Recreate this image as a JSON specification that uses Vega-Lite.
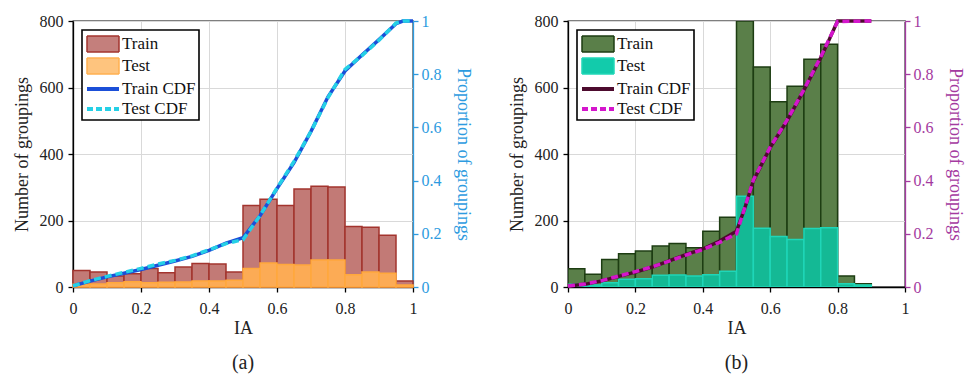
{
  "$schema": "https://vega.github.io/schema/vega-lite/v6.json",
  "background": "white",
  "padding": {"left": 12, "top": 12, "right": 3, "bottom": 2},
  "config": {
    "font": "Liberation Serif",
    "view": {"stroke": "black", "strokeWidth": 1.3},
    "style": {"guide-label": {"font": "Liberation Serif"}, "guide-title": {"font": "Liberation Serif"}},
    "axis": {
      "labelFont": "Liberation Serif", "titleFont": "Liberation Serif",
      "labelFontSize": 16, "titleFontSize": 18, "titleFontWeight": "normal",
      "labelColor": "#222222", "titleColor": "#222222", "labelFlush": false,
      "domainColor": "black", "tickColor": "black", "domainWidth": 1.3, "tickWidth": 1.3, "tickSize": 5,
      "gridColor": "#d9d9d9", "gridWidth": 1
    },
    "axisX": {"labelFont": "Liberation Serif", "titleFont": "Liberation Serif", "labelPadding": 8, "titlePadding": 3, "labelFlush": false},
    "axisY": {"labelFont": "Liberation Serif", "titleFont": "Liberation Serif", "labelPadding": 5, "labelFlush": false},
    "axisQuantitative": {"labelFont": "Liberation Serif", "titleFont": "Liberation Serif"},
    "title": {"font": "Liberation Serif", "fontSize": 20, "fontWeight": "normal", "color": "#222222"},
    "legend": {"labelFont": "Liberation Serif", "labelFontSize": 17, "labelColor": "#111111", "title": null,
               "orient": "top-left", "offset": 9, "padding": 3, "fillColor": "white", "strokeColor": "black", "strokeWidth": 1.6,
               "symbolSize": 400, "symbolOffset": 6, "labelOffset": 7, "rowPadding": -1,
               "symbolOpacity": 1}
  },
  "datasets": {
    "bars_a": [
      {"x0": 0.00, "x1": 0.05, "n": 50, "series": "Train"},
      {"x0": 0.05, "x1": 0.10, "n": 45, "series": "Train"},
      {"x0": 0.10, "x1": 0.15, "n": 33, "series": "Train"},
      {"x0": 0.15, "x1": 0.20, "n": 40, "series": "Train"},
      {"x0": 0.20, "x1": 0.25, "n": 56, "series": "Train"},
      {"x0": 0.25, "x1": 0.30, "n": 43, "series": "Train"},
      {"x0": 0.30, "x1": 0.35, "n": 60, "series": "Train"},
      {"x0": 0.35, "x1": 0.40, "n": 71, "series": "Train"},
      {"x0": 0.40, "x1": 0.45, "n": 69, "series": "Train"},
      {"x0": 0.45, "x1": 0.50, "n": 45, "series": "Train"},
      {"x0": 0.50, "x1": 0.55, "n": 245, "series": "Train"},
      {"x0": 0.55, "x1": 0.60, "n": 264, "series": "Train"},
      {"x0": 0.60, "x1": 0.65, "n": 245, "series": "Train"},
      {"x0": 0.65, "x1": 0.70, "n": 295, "series": "Train"},
      {"x0": 0.70, "x1": 0.75, "n": 303, "series": "Train"},
      {"x0": 0.75, "x1": 0.80, "n": 301, "series": "Train"},
      {"x0": 0.80, "x1": 0.85, "n": 182, "series": "Train"},
      {"x0": 0.85, "x1": 0.90, "n": 180, "series": "Train"},
      {"x0": 0.90, "x1": 0.95, "n": 156, "series": "Train"},
      {"x0": 0.95, "x1": 1.00, "n": 18, "series": "Train"},
      {"x0": 0.00, "x1": 0.05, "n": 8, "series": "Test"},
      {"x0": 0.05, "x1": 0.10, "n": 9, "series": "Test"},
      {"x0": 0.10, "x1": 0.15, "n": 13, "series": "Test"},
      {"x0": 0.15, "x1": 0.20, "n": 16, "series": "Test"},
      {"x0": 0.20, "x1": 0.25, "n": 13, "series": "Test"},
      {"x0": 0.25, "x1": 0.30, "n": 14, "series": "Test"},
      {"x0": 0.30, "x1": 0.35, "n": 15, "series": "Test"},
      {"x0": 0.35, "x1": 0.40, "n": 18, "series": "Test"},
      {"x0": 0.40, "x1": 0.45, "n": 18, "series": "Test"},
      {"x0": 0.45, "x1": 0.50, "n": 20, "series": "Test"},
      {"x0": 0.50, "x1": 0.55, "n": 56, "series": "Test"},
      {"x0": 0.55, "x1": 0.60, "n": 72, "series": "Test"},
      {"x0": 0.60, "x1": 0.65, "n": 68, "series": "Test"},
      {"x0": 0.65, "x1": 0.70, "n": 66, "series": "Test"},
      {"x0": 0.70, "x1": 0.75, "n": 81, "series": "Test"},
      {"x0": 0.75, "x1": 0.80, "n": 81, "series": "Test"},
      {"x0": 0.80, "x1": 0.85, "n": 37, "series": "Test"},
      {"x0": 0.85, "x1": 0.90, "n": 45, "series": "Test"},
      {"x0": 0.90, "x1": 0.95, "n": 41, "series": "Test"},
      {"x0": 0.95, "x1": 1.00, "n": 6, "series": "Test"}
    ],
    "cdf_a": [
      {"x": 0.00, "p": 0.004, "series": "Train CDF"},
      {"x": 0.05, "p": 0.022, "series": "Train CDF"},
      {"x": 0.10, "p": 0.038, "series": "Train CDF"},
      {"x": 0.15, "p": 0.052, "series": "Train CDF"},
      {"x": 0.20, "p": 0.066, "series": "Train CDF"},
      {"x": 0.25, "p": 0.082, "series": "Train CDF"},
      {"x": 0.30, "p": 0.098, "series": "Train CDF"},
      {"x": 0.35, "p": 0.115, "series": "Train CDF"},
      {"x": 0.40, "p": 0.138, "series": "Train CDF"},
      {"x": 0.45, "p": 0.165, "series": "Train CDF"},
      {"x": 0.50, "p": 0.185, "series": "Train CDF"},
      {"x": 0.55, "p": 0.268, "series": "Train CDF"},
      {"x": 0.60, "p": 0.370, "series": "Train CDF"},
      {"x": 0.65, "p": 0.468, "series": "Train CDF"},
      {"x": 0.70, "p": 0.585, "series": "Train CDF"},
      {"x": 0.75, "p": 0.715, "series": "Train CDF"},
      {"x": 0.80, "p": 0.812, "series": "Train CDF"},
      {"x": 0.85, "p": 0.872, "series": "Train CDF"},
      {"x": 0.90, "p": 0.930, "series": "Train CDF"},
      {"x": 0.95, "p": 0.990, "series": "Train CDF"},
      {"x": 0.97, "p": 1.000, "series": "Train CDF"},
      {"x": 1.00, "p": 1.000, "series": "Train CDF"},
      {"x": 0.00, "p": 0.004, "series": "Test CDF"},
      {"x": 0.05, "p": 0.024, "series": "Test CDF"},
      {"x": 0.10, "p": 0.040, "series": "Test CDF"},
      {"x": 0.15, "p": 0.055, "series": "Test CDF"},
      {"x": 0.20, "p": 0.070, "series": "Test CDF"},
      {"x": 0.25, "p": 0.086, "series": "Test CDF"},
      {"x": 0.30, "p": 0.100, "series": "Test CDF"},
      {"x": 0.35, "p": 0.117, "series": "Test CDF"},
      {"x": 0.40, "p": 0.140, "series": "Test CDF"},
      {"x": 0.45, "p": 0.163, "series": "Test CDF"},
      {"x": 0.50, "p": 0.178, "series": "Test CDF"},
      {"x": 0.55, "p": 0.268, "series": "Test CDF"},
      {"x": 0.60, "p": 0.372, "series": "Test CDF"},
      {"x": 0.65, "p": 0.472, "series": "Test CDF"},
      {"x": 0.70, "p": 0.585, "series": "Test CDF"},
      {"x": 0.75, "p": 0.712, "series": "Test CDF"},
      {"x": 0.80, "p": 0.818, "series": "Test CDF"},
      {"x": 0.85, "p": 0.870, "series": "Test CDF"},
      {"x": 0.90, "p": 0.928, "series": "Test CDF"},
      {"x": 0.95, "p": 0.992, "series": "Test CDF"},
      {"x": 0.97, "p": 1.000, "series": "Test CDF"},
      {"x": 1.00, "p": 1.000, "series": "Test CDF"}
    ],
    "bars_b": [
      {"x0": 0.00, "x1": 0.05, "n": 55, "series": "Train"},
      {"x0": 0.05, "x1": 0.10, "n": 38, "series": "Train"},
      {"x0": 0.10, "x1": 0.15, "n": 83, "series": "Train"},
      {"x0": 0.15, "x1": 0.20, "n": 100, "series": "Train"},
      {"x0": 0.20, "x1": 0.25, "n": 108, "series": "Train"},
      {"x0": 0.25, "x1": 0.30, "n": 123, "series": "Train"},
      {"x0": 0.30, "x1": 0.35, "n": 131, "series": "Train"},
      {"x0": 0.35, "x1": 0.40, "n": 118, "series": "Train"},
      {"x0": 0.40, "x1": 0.45, "n": 168, "series": "Train"},
      {"x0": 0.45, "x1": 0.50, "n": 210, "series": "Train"},
      {"x0": 0.50, "x1": 0.55, "n": 800, "series": "Train"},
      {"x0": 0.55, "x1": 0.60, "n": 662, "series": "Train"},
      {"x0": 0.60, "x1": 0.65, "n": 557, "series": "Train"},
      {"x0": 0.65, "x1": 0.70, "n": 604, "series": "Train"},
      {"x0": 0.70, "x1": 0.75, "n": 685, "series": "Train"},
      {"x0": 0.75, "x1": 0.80, "n": 730, "series": "Train"},
      {"x0": 0.80, "x1": 0.85, "n": 33, "series": "Train"},
      {"x0": 0.85, "x1": 0.90, "n": 10, "series": "Train"},
      {"x0": 0.00, "x1": 0.05, "n": 8, "series": "Test"},
      {"x0": 0.05, "x1": 0.10, "n": 6, "series": "Test"},
      {"x0": 0.10, "x1": 0.15, "n": 13, "series": "Test"},
      {"x0": 0.15, "x1": 0.20, "n": 23, "series": "Test"},
      {"x0": 0.20, "x1": 0.25, "n": 25, "series": "Test"},
      {"x0": 0.25, "x1": 0.30, "n": 35, "series": "Test"},
      {"x0": 0.30, "x1": 0.35, "n": 36, "series": "Test"},
      {"x0": 0.35, "x1": 0.40, "n": 33, "series": "Test"},
      {"x0": 0.40, "x1": 0.45, "n": 37, "series": "Test"},
      {"x0": 0.45, "x1": 0.50, "n": 47, "series": "Test"},
      {"x0": 0.50, "x1": 0.55, "n": 273, "series": "Test"},
      {"x0": 0.55, "x1": 0.60, "n": 177, "series": "Test"},
      {"x0": 0.60, "x1": 0.65, "n": 152, "series": "Test"},
      {"x0": 0.65, "x1": 0.70, "n": 143, "series": "Test"},
      {"x0": 0.70, "x1": 0.75, "n": 176, "series": "Test"},
      {"x0": 0.75, "x1": 0.80, "n": 178, "series": "Test"},
      {"x0": 0.80, "x1": 0.85, "n": 10, "series": "Test"},
      {"x0": 0.85, "x1": 0.90, "n": 6, "series": "Test"}
    ],
    "cdf_b": [
      {"x": 0.00, "p": 0.004, "series": "Train CDF"},
      {"x": 0.05, "p": 0.010, "series": "Train CDF"},
      {"x": 0.10, "p": 0.023, "series": "Train CDF"},
      {"x": 0.15, "p": 0.040, "series": "Train CDF"},
      {"x": 0.20, "p": 0.056, "series": "Train CDF"},
      {"x": 0.25, "p": 0.075, "series": "Train CDF"},
      {"x": 0.30, "p": 0.098, "series": "Train CDF"},
      {"x": 0.35, "p": 0.122, "series": "Train CDF"},
      {"x": 0.40, "p": 0.143, "series": "Train CDF"},
      {"x": 0.45, "p": 0.173, "series": "Train CDF"},
      {"x": 0.50, "p": 0.210, "series": "Train CDF"},
      {"x": 0.525, "p": 0.298, "series": "Train CDF"},
      {"x": 0.55, "p": 0.400, "series": "Train CDF"},
      {"x": 0.575, "p": 0.462, "series": "Train CDF"},
      {"x": 0.60, "p": 0.524, "series": "Train CDF"},
      {"x": 0.65, "p": 0.625, "series": "Train CDF"},
      {"x": 0.70, "p": 0.740, "series": "Train CDF"},
      {"x": 0.75, "p": 0.862, "series": "Train CDF"},
      {"x": 0.775, "p": 0.930, "series": "Train CDF"},
      {"x": 0.80, "p": 1.000, "series": "Train CDF"},
      {"x": 0.90, "p": 1.000, "series": "Train CDF"},
      {"x": 0.00, "p": 0.004, "series": "Test CDF"},
      {"x": 0.05, "p": 0.011, "series": "Test CDF"},
      {"x": 0.10, "p": 0.024, "series": "Test CDF"},
      {"x": 0.15, "p": 0.041, "series": "Test CDF"},
      {"x": 0.20, "p": 0.058, "series": "Test CDF"},
      {"x": 0.25, "p": 0.076, "series": "Test CDF"},
      {"x": 0.30, "p": 0.097, "series": "Test CDF"},
      {"x": 0.35, "p": 0.120, "series": "Test CDF"},
      {"x": 0.40, "p": 0.141, "series": "Test CDF"},
      {"x": 0.45, "p": 0.168, "series": "Test CDF"},
      {"x": 0.50, "p": 0.200, "series": "Test CDF"},
      {"x": 0.525, "p": 0.300, "series": "Test CDF"},
      {"x": 0.55, "p": 0.402, "series": "Test CDF"},
      {"x": 0.575, "p": 0.464, "series": "Test CDF"},
      {"x": 0.60, "p": 0.526, "series": "Test CDF"},
      {"x": 0.65, "p": 0.627, "series": "Test CDF"},
      {"x": 0.70, "p": 0.742, "series": "Test CDF"},
      {"x": 0.75, "p": 0.865, "series": "Test CDF"},
      {"x": 0.775, "p": 0.932, "series": "Test CDF"},
      {"x": 0.80, "p": 0.998, "series": "Test CDF"},
      {"x": 0.90, "p": 1.000, "series": "Test CDF"}
    ]
  },
  "spacing": 35,
  "hconcat": [
    {
      "width": 340, "height": 266,
      "title": {"text": "(a)", "orient": "bottom", "offset": 16},
      "layer": [
        {
          "data": {"name": "bars_a"},
          "encoding": {
            "x": {"field": "x0", "type": "quantitative", "scale": {"domain": [0, 1], "nice": false, "padding": 0},
                  "axis": {"title": "IA", "values": [0, 0.2, 0.4, 0.6, 0.8, 1], "format": "~g", "grid": true, "labelFlush": false, "labelFont": "Liberation Serif", "titleFont": "Liberation Serif"}},
            "x2": {"field": "x1"},
            "y": {"field": "n", "type": "quantitative", "stack": null, "scale": {"domain": [0, 800], "nice": false},
                  "axis": {"title": "Number of groupings", "orient": "left", "values": [0, 200, 400, 600, 800], "grid": true, "titlePadding": 8, "labelFlush": false, "labelFont": "Liberation Serif", "titleFont": "Liberation Serif"}},
            "y2": {"datum": 0}
          },
          "layer": [
            {"transform": [{"filter": "datum.series == 'Train'"}], "mark": {"type": "bar", "strokeWidth": 1.5, "fill": "#c27a76", "stroke": "#a3342e"}},
            {"transform": [{"filter": "datum.series == 'Test'"}], "mark": {"type": "bar", "strokeWidth": 1.5, "fill": "#fcab55", "stroke": "#ffa83c"}}
          ]
        },
        {
          "data": {"name": "cdf_a"},
          "encoding": {
            "x": {"field": "x", "type": "quantitative"},
            "y": {"field": "p", "type": "quantitative", "scale": {"domain": [0, 1], "nice": false},
                  "axis": {"orient": "right", "title": "Proportion of groupings", "values": [0, 0.2, 0.4, 0.6, 0.8, 1], "format": "~g", "grid": false, "labelFlush": false,
                           "labelFont": "Liberation Serif", "titleFont": "Liberation Serif",
                           "domainColor": "#2d9be0", "tickColor": "#2d9be0", "labelColor": "#2d9be0", "titleColor": "#2d9be0", "labelPadding": 3, "titlePadding": 12}}
          },
          "layer": [
            {"transform": [{"filter": "datum.series == 'Train CDF'"}], "mark": {"type": "line", "strokeWidth": 3.5, "color": "#1b4fd8"}},
            {"transform": [{"filter": "datum.series == 'Test CDF'"}], "mark": {"type": "line", "strokeWidth": 3.5, "color": "#25d0e6", "strokeDash": [7, 4]}}
          ]
        },
        {
          "data": {"values": []},
          "mark": {"type": "point", "filled": true, "opacity": 1},
          "encoding": {
            "fill": {"field": "series", "type": "nominal",
                     "scale": {"domain": ["Train", "Test", "Train CDF", "Test CDF"], "range": ["#c47f7c", "#fec47e", "transparent", "transparent"]}},
            "stroke": {"field": "series", "type": "nominal",
                       "scale": {"domain": ["Train", "Test", "Train CDF", "Test CDF"], "range": ["#a3342e", "#ffb050", "#1b4fd8", "#25d0e6"]}},
            "shape": {"field": "series", "type": "nominal",
                      "scale": {"domain": ["Train", "Test", "Train CDF", "Test CDF"], "range": ["M-1.6,-0.8H1.6V0.8H-1.6Z", "M-1.6,-0.8H1.6V0.8H-1.6Z", "M-1.6,0H1.6", "M-1.6,0H1.6"]}},
            "strokeDash": {"field": "series", "type": "nominal",
                           "scale": {"domain": ["Train", "Test", "Train CDF", "Test CDF"], "range": [[1, 0], [1, 0], [1, 0], [6, 3]]}},
            "strokeWidth": {"field": "series", "type": "nominal",
                            "scale": {"type": "ordinal", "domain": ["Train", "Test", "Train CDF", "Test CDF"], "range": [1.5, 1.5, 4, 4]}}
          }
        }
      ],
      "resolve": {"scale": {"y": "independent"}, "axis": {"y": "independent"}}
    },
    {
      "width": 337, "height": 266,
      "title": {"text": "(b)", "orient": "bottom", "offset": 16},
      "layer": [
        {
          "data": {"name": "bars_b"},
          "encoding": {
            "x": {"field": "x0", "type": "quantitative", "scale": {"domain": [0, 1], "nice": false, "padding": 0},
                  "axis": {"title": "IA", "values": [0, 0.2, 0.4, 0.6, 0.8, 1], "format": "~g", "grid": true, "labelFlush": false, "labelFont": "Liberation Serif", "titleFont": "Liberation Serif"}},
            "x2": {"field": "x1"},
            "y": {"field": "n", "type": "quantitative", "stack": null, "scale": {"domain": [0, 800], "nice": false},
                  "axis": {"title": "Number of groupings", "orient": "left", "values": [0, 200, 400, 600, 800], "grid": true, "titlePadding": 8, "labelFlush": false, "labelFont": "Liberation Serif", "titleFont": "Liberation Serif"}},
            "y2": {"datum": 0}
          },
          "layer": [
            {"transform": [{"filter": "datum.series == 'Train'"}], "mark": {"type": "bar", "strokeWidth": 1.5, "fill": "#5a7f49", "stroke": "#1d3d12", "clip": true}},
            {"transform": [{"filter": "datum.series == 'Test'"}], "mark": {"type": "bar", "strokeWidth": 1.5, "fill": "#14b995", "stroke": "#1fd6b8", "clip": true}}
          ]
        },
        {
          "data": {"name": "cdf_b"},
          "encoding": {
            "x": {"field": "x", "type": "quantitative"},
            "y": {"field": "p", "type": "quantitative", "scale": {"domain": [0, 1], "nice": false},
                  "axis": {"orient": "right", "title": "Proportion of groupings", "values": [0, 0.2, 0.4, 0.6, 0.8, 1], "format": "~g", "grid": false, "labelFlush": false,
                           "labelFont": "Liberation Serif", "titleFont": "Liberation Serif",
                           "domainColor": "#a43aa0", "tickColor": "#a43aa0", "labelColor": "#a43aa0", "titleColor": "#a43aa0", "labelPadding": 3, "titlePadding": 12}}
          },
          "layer": [
            {"transform": [{"filter": "datum.series == 'Train CDF'"}], "mark": {"type": "line", "strokeWidth": 3.5, "color": "#4d0b2e"}},
            {"transform": [{"filter": "datum.series == 'Test CDF'"}], "mark": {"type": "line", "strokeWidth": 3.5, "color": "#d416cc", "strokeDash": [7, 4]}}
          ]
        },
        {
          "data": {"values": []},
          "mark": {"type": "point", "filled": true, "opacity": 1},
          "encoding": {
            "fill": {"field": "series", "type": "nominal",
                     "scale": {"domain": ["Train", "Test", "Train CDF", "Test CDF"], "range": ["#5a7f49", "#12cbab", "transparent", "transparent"]}},
            "stroke": {"field": "series", "type": "nominal",
                       "scale": {"domain": ["Train", "Test", "Train CDF", "Test CDF"], "range": ["#1d3d12", "#20d8b8", "#4d0b2e", "#d416cc"]}},
            "shape": {"field": "series", "type": "nominal",
                      "scale": {"domain": ["Train", "Test", "Train CDF", "Test CDF"], "range": ["M-1.6,-0.8H1.6V0.8H-1.6Z", "M-1.6,-0.8H1.6V0.8H-1.6Z", "M-1.6,0H1.6", "M-1.6,0H1.6"]}},
            "strokeDash": {"field": "series", "type": "nominal",
                           "scale": {"domain": ["Train", "Test", "Train CDF", "Test CDF"], "range": [[1, 0], [1, 0], [1, 0], [6, 3]]}},
            "strokeWidth": {"field": "series", "type": "nominal",
                            "scale": {"type": "ordinal", "domain": ["Train", "Test", "Train CDF", "Test CDF"], "range": [1.5, 1.5, 4, 4]}}
          }
        }
      ],
      "resolve": {"scale": {"y": "independent"}, "axis": {"y": "independent"}}
    }
  ],
  "resolve": {"scale": {"fill": "independent", "stroke": "independent", "shape": "independent", "strokeDash": "independent", "strokeWidth": "independent", "x": "independent", "y": "independent"},
              "legend": {"fill": "independent", "stroke": "independent", "shape": "independent", "strokeDash": "independent", "strokeWidth": "independent"}, "axis": {"y": "independent"}}
}
